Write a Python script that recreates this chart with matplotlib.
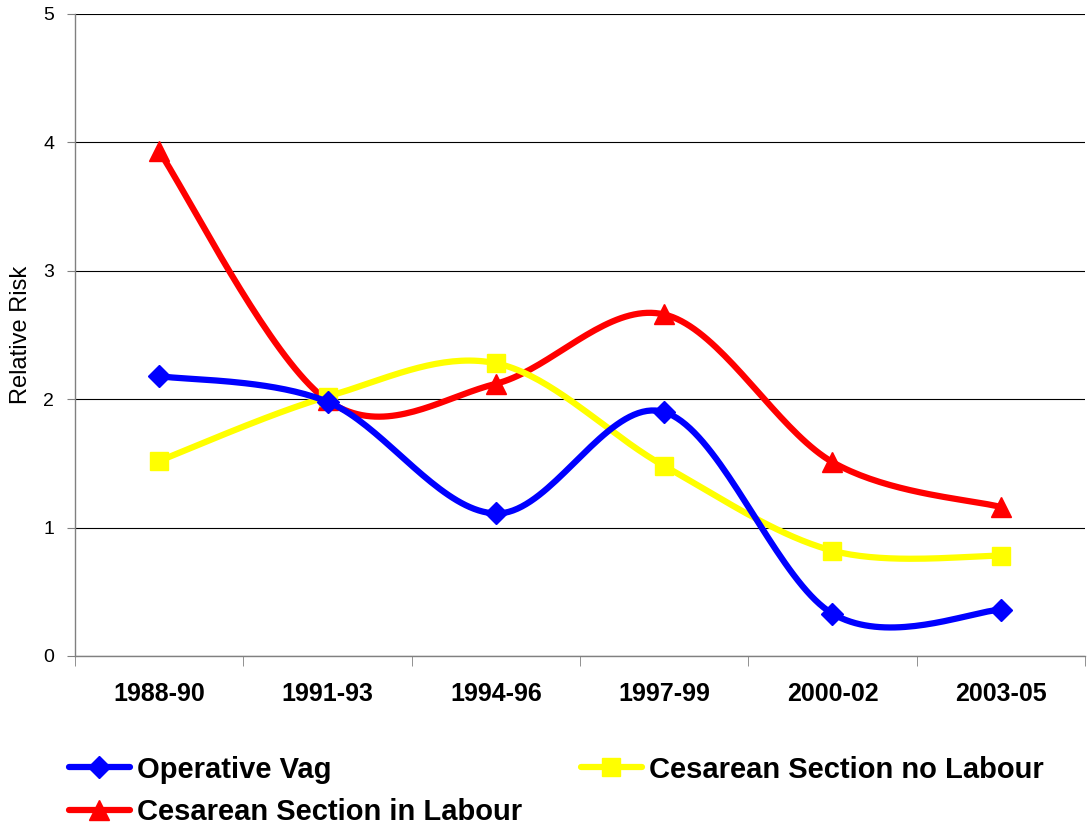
import numpy as np
import matplotlib
matplotlib.use('Agg')
import matplotlib.pyplot as plt
from matplotlib.ticker import FixedLocator

plt.rcParams['font.family'] = ['Liberation Sans', 'DejaVu Sans']

periods = ['1988-90', '1991-93', '1994-96', '1997-99', '2000-02', '2003-05']
operative_vag = [2.18, 1.98, 1.11, 1.90, 0.33, 0.36]
cs_no_labour = [1.52, 2.02, 2.28, 1.48, 0.82, 0.78]
cs_in_labour = [3.93, 1.99, 2.12, 2.66, 1.51, 1.16]

BLUE = '#0000FF'; YELLOW = '#FFFF00'; RED = '#FF0000'; GREY = '#808080'


def smooth(xs, ys, n=40):
    """Excel-style smoothed line: cubic Bezier through the points, Catmull-Rom handles."""
    p = np.column_stack([xs, ys]).astype(float)
    ext = np.vstack([p[0], p, p[-1]])
    out = []
    t = np.linspace(0, 1, n)[:, None]
    for i in range(len(p) - 1):
        p0, p1, p2, p3 = ext[i], ext[i + 1], ext[i + 2], ext[i + 3]
        c1 = p1 + (p2 - p0) / 6
        c2 = p2 - (p3 - p1) / 6
        seg = ((1 - t) ** 3) * p1 + 3 * ((1 - t) ** 2) * t * c1 + 3 * (1 - t) * t ** 2 * c2 + t ** 3 * p2
        out.append(seg if i == 0 else seg[1:])
    seg = np.vstack(out)
    return seg[:, 0], seg[:, 1]


fig = plt.figure(figsize=(10.9, 8.27), dpi=100)
ax = fig.add_axes([75 / 1090, 1 - 656 / 827, 1010 / 1090, 642 / 827])

x = np.arange(len(periods))
series = [('Operative Vag', operative_vag, BLUE, 'D', 11),
          ('Cesarean Section in Labour', cs_in_labour, RED, '^', 14),
          ('Cesarean Section no Labour', cs_no_labour, YELLOW, 's', 13)]
handles = []
for order, (name, vals, col, mk, ms) in zip([3, 1, 2], series):
    sx, sy = smooth(x, vals)
    ax.plot(sx, sy, color=col, lw=4.5, solid_capstyle='round', zorder=order, clip_on=False)
    ax.plot(x, vals, ls='none', marker=mk, ms=ms, color=col, mec=col, zorder=order + 0.5,
            clip_on=False)
    handles.append(ax.plot([], [], color=col, lw=4.5, marker=mk, ms=ms, mec=col,
                           solid_capstyle='round', label=name)[0])

ax.set_xlim(-0.5, len(periods) - 0.5)
ax.set_ylim(0, 5)
ax.set_yticks(range(6))
ax.yaxis.grid(True, color='black', lw=0.8)
ax.set_axisbelow(True)
ax.set_xticks(x)
ax.set_xticklabels(periods, fontsize=18, fontweight='bold')
ax.xaxis.set_minor_locator(FixedLocator(np.arange(-0.5, len(periods), 1.0)))
ax.tick_params(axis='x', which='major', length=0, pad=19)
ax.tick_params(axis='x', which='minor', length=7, color=GREY, direction='out')
ax.tick_params(axis='y', length=6, color=GREY, labelsize=14, pad=9)
ax.set_ylabel('Relative Risk', fontsize=17, labelpad=8)
ax.spines['right'].set_visible(False)
ax.spines['top'].set_visible(False)
for side in ['left', 'bottom']:
    ax.spines[side].set_color(GREY)
    ax.spines[side].set_linewidth(1.0)

fig.legend(handles=handles, loc='upper left', bbox_to_anchor=(57 / 1090, 1 - 744 / 827),
           ncol=2, frameon=False, prop={'size': 21, 'weight': 'bold'},
           handlelength=2.1, handletextpad=0.25, columnspacing=2.0, labelspacing=0.5,
           borderaxespad=0)

fig.savefig('out.png', dpi=100, facecolor='white')
